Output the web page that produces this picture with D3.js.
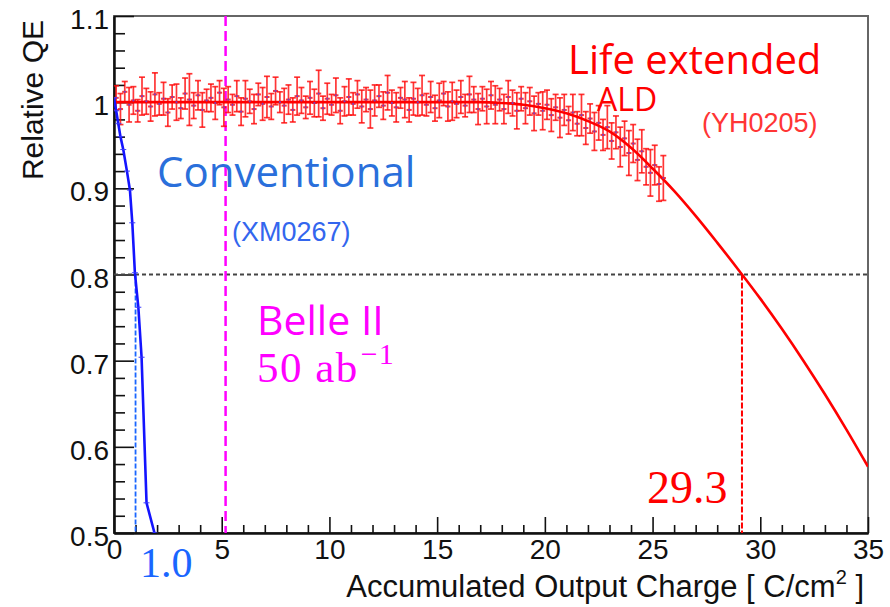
<!DOCTYPE html>
<html><head><meta charset="utf-8">
<script src="https://cdn.jsdelivr.net/npm/d3@7"></script>
<style>body{margin:0;background:#fff}svg{display:block}</style>
</head><body>
<svg id="c" width="890" height="607"></svg>
<script>
// ---------- data ----------
const xMajorTicks = [0,5,10,15,20,25,30,35];
const xTickLabels = ["0","5","10","15","20","25","30","35"];
const xMinorTicks = [1,2,3,4,6,7,8,9,11,12,13,14,16,17,18,19,21,22,23,24,26,27,28,29,31,32,33,34];
const yMajorTicks = [0.5,0.6,0.7,0.8,0.9,1.0,1.1];
const yTickLabels = ["0.5","0.6","0.7","0.8","0.9","1","1.1"];
const yMinorTicks = [0.52,0.54,0.56,0.58,0.62,0.64,0.66,0.68,0.72,0.74,0.76,0.78,0.82,0.84,0.86,0.88,0.92,0.94,0.96,0.98,1.02,1.04,1.06,1.08];

// Life extended ALD (YH0205) measured points
const redX = [
0.1,0.3,0.5,0.7,0.9,1.1,1.3,1.5,1.7,1.9,
2.1,2.3,2.5,2.7,2.9,3.1,3.3,3.5,3.7,3.9,
4.1,4.3,4.5,4.7,4.9,5.1,5.3,5.5,5.7,5.9,
6.1,6.3,6.5,6.7,6.9,7.1,7.3,7.5,7.7,7.9,
8.1,8.3,8.5,8.7,8.9,9.1,9.3,9.5,9.7,9.9,
10.1,10.3,10.5,10.7,10.9,11.1,11.3,11.5,11.7,11.9,
12.1,12.3,12.5,12.7,12.9,13.1,13.3,13.5,13.7,13.9,
14.1,14.3,14.5,14.7,14.9,15.1,15.3,15.5,15.7,15.9,
16.1,16.3,16.5,16.7,16.9,17.1,17.3,17.5,17.7,17.9,
18.1,18.3,18.5,18.7,18.9,19.1,19.3,19.5,19.7,19.9,
20.1,20.3,20.5,20.7,20.9,21.1,21.3,21.5,21.7,21.9,
22.1,22.3,22.5,22.7,22.9,23.1,23.3,23.5,23.7,23.9,
24.1,24.3,24.5,24.7,24.9,25.1,25.3,25.5];
const redY = [
1.005,0.992,1.012,0.997,1.002,0.990,1.007,1.001,0.995,1.009,
0.998,1.004,0.988,1.006,1.000,0.993,1.010,1.003,0.996,1.008,
0.991,1.002,1.005,0.999,1.011,0.994,1.003,0.997,1.007,0.989,
1.004,1.001,0.992,1.009,0.998,1.006,0.995,1.013,1.000,0.996,
1.003,0.991,1.007,1.002,0.994,1.005,0.999,1.010,0.993,1.004,
0.997,1.008,0.990,1.001,1.006,0.998,1.009,0.995,1.003,0.992,
1.002,1.007,0.996,1.011,0.999,0.994,1.005,1.003,0.991,1.004,
1.000,1.008,0.997,1.006,0.993,1.002,1.010,0.995,1.001,0.998,
1.006,0.996,1.009,1.003,0.992,1.004,0.995,1.008,0.997,1.003,
0.992,1.006,0.999,0.990,1.004,0.993,1.001,0.987,0.998,0.990,
0.997,0.985,0.994,0.982,0.991,0.979,0.988,0.975,0.985,0.970,
0.981,0.966,0.976,0.962,0.971,0.955,0.965,0.948,0.958,0.941,
0.952,0.933,0.943,0.925,0.918,0.927,0.905,0.912];
const redErr = [
0.014,0.018,0.012,0.020,0.016,0.013,0.022,0.015,0.017,0.025,
0.013,0.019,0.016,0.014,0.021,0.012,0.018,0.030,0.015,0.017,
0.020,0.013,0.016,0.019,0.014,0.022,0.015,0.012,0.018,0.016,
0.021,0.014,0.017,0.013,0.019,0.024,0.015,0.016,0.012,0.020,
0.017,0.014,0.022,0.015,0.013,0.019,0.016,0.027,0.014,0.018,
0.012,0.020,0.015,0.017,0.021,0.013,0.016,0.019,0.014,0.022,
0.018,0.013,0.016,0.020,0.015,0.017,0.012,0.021,0.014,0.019,
0.016,0.023,0.013,0.018,0.015,0.020,0.014,0.017,0.022,0.016,
0.019,0.013,0.021,0.015,0.018,0.014,0.020,0.016,0.022,0.013,
0.017,0.019,0.015,0.021,0.014,0.018,0.016,0.020,0.013,0.022,
0.017,0.019,0.015,0.023,0.018,0.016,0.021,0.014,0.024,0.019,
0.017,0.022,0.020,0.018,0.025,0.021,0.019,0.023,0.020,0.026,
0.022,0.024,0.025,0.021,0.027,0.023,0.020,0.026];

// fit curve of the life-extended PMT
const fitX = [0,5,10,15,16,17,18,19,20,21,22,23,24,25,26,27,28,29,30,31,32,33,34,35];
const fitY = [1.000,1.000,1.000,1.000,1.000,1.000,0.999,0.997,0.993,0.987,0.978,0.966,0.947,0.923,0.897,0.868,0.837,0.805,0.772,0.737,0.700,0.661,0.620,0.577];

// Conventional (XM0267)
const blueX = [0,0.1,0.2,0.3,0.43,0.6,0.74,0.85,0.97,1.13,1.28,1.51,1.88];
const blueY = [1.005,0.99,0.975,0.96,0.945,0.92,0.898,0.86,0.802,0.762,0.704,0.535,0.5];

const belleX = 5.18;     // Belle II 50 ab^-1
const convEnd = 1.0;     // conventional reaches 0.8
const aldEnd = 29.15;    // life extended reaches 0.8
const qeLimit = 0.8;

// ---------- chart ----------
const svg = d3.select("#c");
const x = d3.scaleLinear().domain([0,35]).range([114,868]);
const y = d3.scaleLinear().domain([0.5,1.1]).range([533,16]);
const SANS = "'Liberation Sans', Arial, sans-serif";
const OPEN = "'Open Sans', 'Noto Sans', sans-serif";
const SERIF = "'Liberation Serif', 'Times New Roman', serif";

const clipId = "plotclip";
svg.append("defs").append("clipPath").attr("id", clipId)
  .append("rect").attr("x",114).attr("y",16).attr("width",754).attr("height",517);

// frame
svg.append("rect").attr("x",114).attr("y",16).attr("width",754).attr("height",517)
  .attr("fill","none").attr("stroke","#666").attr("stroke-width",2);

// axes (ROOT style: inward ticks)
const gx = svg.append("g").attr("transform","translate(0,533)")
  .call(d3.axisBottom(x).tickValues(xMajorTicks).tickSizeInner(-16).tickSizeOuter(0).tickPadding(6)
    .tickFormat((d,i)=>xTickLabels[i]));
const gxm = svg.append("g").attr("transform","translate(0,533)")
  .call(d3.axisBottom(x).tickValues(xMinorTicks).tickSizeInner(-8).tickSizeOuter(0).tickFormat(""));
const gy = svg.append("g").attr("transform","translate(114,0)")
  .call(d3.axisLeft(y).tickValues(yMajorTicks).tickSizeInner(-20).tickSizeOuter(0).tickPadding(5)
    .tickFormat((d,i)=>yTickLabels[i]));
const gym = svg.append("g").attr("transform","translate(114,0)")
  .call(d3.axisLeft(y).tickValues(yMinorTicks).tickSizeInner(-11).tickSizeOuter(0).tickFormat(""));
[gx,gxm,gy,gym].forEach(g=>{
  g.select(".domain").attr("stroke","#111").attr("stroke-width",2);
  g.selectAll(".tick line").attr("stroke","#111").attr("stroke-width",1.6);
  g.selectAll(".tick text").attr("font-family",SANS).attr("font-size",28).attr("fill","#111");
});
gy.selectAll(".tick text").attr("dy","0.45em");

// axis titles
svg.append("text").attr("transform","translate(43,20) rotate(-90)")
  .attr("text-anchor","end").attr("font-family",SANS).attr("font-size",30).attr("fill","#111")
  .text("Relative QE");
const xt = svg.append("text").attr("x",864).attr("y",597).attr("text-anchor","end")
  .attr("font-family",SANS).attr("font-size",31).attr("fill","#111");
xt.append("tspan").text("Accumulated Output Charge [ C/cm");
xt.append("tspan").attr("font-size",20).attr("dy",-13).text("2");
xt.append("tspan").attr("dy",13).text(" ]");

const plot = svg.append("g").attr("clip-path",`url(#${clipId})`);

// reference lines
plot.append("line").attr("x1",x(0)).attr("x2",x(35)).attr("y1",y(qeLimit)).attr("y2",y(qeLimit))
  .attr("stroke","#444").attr("stroke-width",2).attr("stroke-dasharray","4,3");
plot.append("line").attr("x1",x(belleX)).attr("x2",x(belleX)).attr("y1",y(1.1)).attr("y2",y(0.5))
  .attr("stroke","#ff00ff").attr("stroke-width",2.5).attr("stroke-dasharray","10,5");
plot.append("line").attr("x1",x(convEnd)).attr("x2",x(convEnd)).attr("y1",y(qeLimit)).attr("y2",y(0.5))
  .attr("stroke","#1a66ff").attr("stroke-width",1.8).attr("stroke-dasharray","5,2");
plot.append("line").attr("x1",x(aldEnd)).attr("x2",x(aldEnd)).attr("y1",y(qeLimit)).attr("y2",y(0.5))
  .attr("stroke","#ff0000").attr("stroke-width",2).attr("stroke-dasharray","6,2");

// red data error bars
const red = redX.map((v,i)=>({x:v,y:redY[i],e:redErr[i]}));
const eb = plot.append("g").attr("stroke","#ff0a0a").attr("stroke-opacity",0.82).attr("stroke-width",1.7);
red.forEach(d=>{
  eb.append("line").attr("x1",x(d.x)).attr("x2",x(d.x)).attr("y1",y(d.y-d.e)).attr("y2",y(d.y+d.e));
  eb.append("line").attr("x1",x(d.x)-3).attr("x2",x(d.x)+3).attr("y1",y(d.y-d.e)).attr("y2",y(d.y-d.e));
  eb.append("line").attr("x1",x(d.x)-3).attr("x2",x(d.x)+3).attr("y1",y(d.y+d.e)).attr("y2",y(d.y+d.e));
  eb.append("line").attr("x1",x(d.x-0.12)).attr("x2",x(d.x+0.12)).attr("y1",y(d.y)).attr("y2",y(d.y))
    .attr("stroke-width",2);
});

// fit line
plot.append("path").datum(fitX.map((v,i)=>[v,fitY[i]]))
  .attr("d",d3.line().x(d=>x(d[0])).y(d=>y(d[1])).curve(d3.curveMonotoneX))
  .attr("fill","none").attr("stroke","#ff0000").attr("stroke-width",2.6);

plot.append("g").selectAll("circle").data(red).join("circle")
  .attr("cx",d=>x(d.x)).attr("cy",d=>y(d.y)).attr("r",1.1).attr("fill","#5050ff").attr("opacity",0.7);

// conventional curve
const blue = blueX.map((v,i)=>[v,blueY[i]]);
plot.append("path").datum(blue)
  .attr("d",d3.line().x(d=>x(d[0])).y(d=>y(d[1])))
  .attr("fill","none").attr("stroke","#1414ff").attr("stroke-width",2.6);
const bg = plot.append("g").attr("stroke","#3a3aff").attr("stroke-width",1);
blue.forEach(d=>{
  bg.append("line").attr("x1",x(d[0])-3).attr("x2",x(d[0])+3).attr("y1",y(d[1])).attr("y2",y(d[1]));
});

// annotations
function txt(t,xx,yy,size,fam,fill){
  return svg.append("text").attr("x",xx).attr("y",yy).attr("font-size",size)
    .attr("font-family",fam).attr("fill",fill).text(t);
}
txt("Life extended",568,74,40,OPEN,"#ff0000");
txt("ALD",597,111,32,OPEN,"#ff0000");
txt("(YH0205)",702,132,27,SANS,"#ff3535");
txt("Conventional",157,187,42,OPEN,"#2a6fdb");
txt("(XM0267)",232,241,27,SANS,"#3366ee");
txt("Belle II",257,335,41,OPEN,"#ff00ff");
const ab = svg.append("text").attr("x",257).attr("y",382).attr("font-family",SERIF)
  .attr("font-size",43).attr("fill","#ff00ff").attr("letter-spacing",1.5);
ab.append("tspan").text("50 ab");
ab.append("tspan").attr("font-size",30).attr("dy",-18).attr("dx",2).attr("letter-spacing",1).text("−1");
txt("1.0",140,577,42,SERIF,"#1a66ff");
txt("29.3",647,503,46,SERIF,"#ff0000");
</script>
</body></html>
